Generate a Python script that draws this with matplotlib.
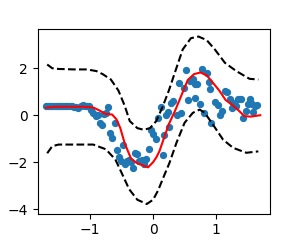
import numpy as np
import matplotlib
matplotlib.use('Agg')
import matplotlib.pyplot as plt

# observed points
x_obs = [-1.70, -1.67, -1.63, -1.60, -1.56, -1.53, -1.49, -1.46, -1.43, -1.39,
         -1.36, -1.32, -1.29, -1.25, -1.22, -1.19, -1.15, -1.12, -1.08, -1.05,
         -1.01, -0.98, -0.95, -0.91, -0.88, -0.85, -0.81, -0.78, -0.75, -0.72,
         -0.68, -0.65, -0.61, -0.58, -0.54, -0.51, -0.48, -0.45, -0.42, -0.39,
         -0.35, -0.32, -0.28, -0.25, -0.22, -0.18, -0.15, -0.11, -0.07, -0.04,
         0.00, 0.04, 0.08, 0.12, 0.15, 0.18, 0.21, 0.24, 0.26, 0.29,
         0.32, 0.38, 0.41, 0.45, 0.49, 0.52, 0.55, 0.59, 0.63, 0.66,
         0.67, 0.70, 0.74, 0.78, 0.81, 0.85, 0.88, 0.90, 0.92, 0.99,
         1.03, 1.06, 1.09, 1.14, 1.17, 1.22, 1.25, 1.27, 1.30, 1.32,
         1.35, 1.39, 1.43, 1.48, 1.51, 1.54, 1.57, 1.59, 1.62, 1.65]
y_obs = [0.38, 0.41, 0.40, 0.41, 0.40, 0.39, 0.40, 0.39, 0.39, 0.40,
         0.38, 0.38, 0.38, 0.37, 0.33, 0.32, 0.40, 0.42, 0.41, 0.40,
         0.40, 0.22, 0.08, -0.03, 0.03, -0.33, -0.40, 0.04, 0.08, 0.36,
         -0.75, -0.98, -0.32, -1.50, -1.80, -1.96, -1.25, -2.06, -1.96, -1.89,
         -2.00, -2.24, -1.60, -1.65, -1.96, -1.89, -2.08, -1.85, -1.45, -0.62,
         -0.82, -1.00, -0.11, 0.36, -1.68, -0.85, 0.03, 0.12, -0.50, 0.52,
         0.62, 0.03, 1.38, 0.10, 1.15, 1.92, 0.65, 1.45, 1.53, 0.75,
         1.33, 1.31, 0.46, 1.95, 0.10, 1.81, 1.42, 1.12, -0.32, 0.55,
         0.44, 0.03, 0.17, 1.04, 0.98, 0.70, 0.32, 0.53, 0.45, 0.38,
         0.68, 0.68, -0.11, 0.17, 0.46, 0.68, 0.46, 0.15, 0.38, 0.42]

# predicted mean
x_mean = [-1.70, -1.55, -1.40, -1.25, -1.10, -0.95, -0.85, -0.75, -0.65, -0.58,
          -0.52, -0.45, -0.35, -0.25, -0.15, -0.08, 0.00, 0.05, 0.10, 0.15,
          0.25, 0.35, 0.45, 0.55, 0.65, 0.75, 0.85, 0.95, 1.05, 1.15,
          1.25, 1.35, 1.45, 1.55, 1.70]
y_mean = [0.32, 0.36, 0.36, 0.36, 0.36, 0.33, 0.20, 0.05, 0.03, -0.18,
          -0.55, -1.20, -1.85, -2.05, -2.15, -2.22, -2.00, -1.80, -1.54, -1.15,
          -0.38, 0.20, 0.85, 1.50, 1.75, 1.82, 1.70, 1.38, 1.05, 0.65,
          0.45, 0.22, -0.04, -0.06, 0.00]

# upper bound
x_up = [-1.68, -1.60, -1.50, -1.25, -1.05, -0.90, -0.80, -0.67, -0.55, -0.45,
        -0.37, -0.25, -0.15, -0.05, 0.05, 0.15, 0.25, 0.35, 0.47, 0.60,
        0.72, 0.85, 0.98, 1.14, 1.32, 1.53, 1.67]
y_up = [2.16, 2.00, 1.97, 1.95, 1.95, 1.88, 1.75, 1.52, 1.05, 0.40,
        -0.25, -0.55, -0.62, -0.55, -0.25, 0.35, 1.05, 1.85, 2.80, 3.28,
        3.35, 3.20, 2.80, 2.23, 1.88, 1.55, 1.52]

# lower bound
x_lo = [-1.68, -1.60, -1.50, -1.25, -0.95, -0.75, -0.60, -0.50, -0.38, -0.25,
        -0.10, 0.00, 0.08, 0.16, 0.26, 0.37, 0.50, 0.63, 0.74, 0.82,
        0.95, 1.11, 1.27, 1.48, 1.67]
y_lo = [-1.62, -1.32, -1.25, -1.25, -1.25, -1.45, -1.88, -2.45, -3.15, -3.60,
        -3.78, -3.60, -3.20, -2.67, -2.03, -1.18, -0.32, 0.10, 0.24, 0.10,
        -0.40, -1.04, -1.39, -1.60, -1.54]

fig = plt.figure(figsize=(3, 2.4), dpi=100)
ax = fig.subplots(1)

ax.scatter(x_obs, y_obs, s=18, color='C0')
ax.plot(x_mean, y_mean, 'r-', lw=1.5)
ax.plot(x_up, y_up, 'k--', lw=1.5)
ax.plot(x_lo, y_lo, 'k--', lw=1.5)

ax.set_xlim(-1.834, 1.855)
ax.set_ylim(-4.19, 3.68)
ax.set_yticks([-4, -2, 0, 2])

fig.savefig('out.png', dpi=100)
